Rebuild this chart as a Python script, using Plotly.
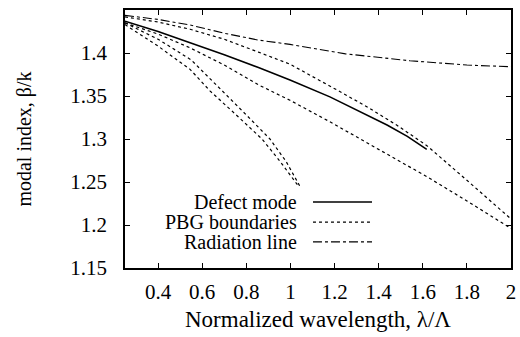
import plotly.graph_objects as go

# ---- data ----
x_defect = [0.25, 0.4, 0.545, 0.7, 0.855, 0.998, 1.179, 1.3, 1.438, 1.53, 1.618]
y_defect = [1.437, 1.425, 1.412, 1.398, 1.383, 1.3686, 1.349, 1.334, 1.3163, 1.303, 1.288]

x_pbg_upper = [0.25, 0.4, 0.545, 0.7, 0.855, 0.998, 1.211, 1.35, 1.483, 1.62, 1.8, 2.0]
y_pbg_upper = [1.442, 1.436, 1.4276, 1.416, 1.401, 1.387, 1.357, 1.337, 1.316, 1.292, 1.252, 1.207]

x_pbg_lower = [0.25, 0.4, 0.545, 0.7, 0.855, 0.998, 1.179, 1.4, 1.62, 1.8, 2.0]
y_pbg_lower = [1.435, 1.422, 1.406, 1.386, 1.363, 1.345, 1.320, 1.288, 1.256, 1.228, 1.196]

x_band_a = [0.25, 0.4, 0.55, 0.712, 0.8, 0.907, 0.98, 1.043]
y_band_a = [1.435, 1.416, 1.392, 1.351, 1.328, 1.300, 1.274, 1.245]

x_band_b = [0.25, 0.4, 0.545, 0.635, 0.75, 0.871, 0.95, 1.034]
y_band_b = [1.433, 1.408, 1.381, 1.356, 1.329, 1.300, 1.275, 1.246]

x_radiation = [0.25, 0.4, 0.545, 0.7, 0.855, 0.998, 1.25, 1.542, 1.8, 2.0]
y_radiation = [1.4438, 1.439, 1.4326, 1.423, 1.415, 1.410, 1.399, 1.391, 1.386, 1.384]

x_ticks = [0.4, 0.6, 0.8, 1.0, 1.2, 1.4, 1.6, 1.8, 2.0]
x_ticklabels = ["0.4", "0.6", "0.8", "1", "1.2", "1.4", "1.6", "1.8", "2"]
y_ticks = [1.15, 1.2, 1.25, 1.3, 1.35, 1.4]
y_ticklabels = ["1.15", "1.2", "1.25", "1.3", "1.35", "1.4"]

legend_labels = ["Defect mode", "PBG boundaries", "Radiation line"]

FONT = "Liberation Serif"
BLACK = "black"

fig = go.Figure()

fig.add_trace(go.Scatter(x=x_defect, y=y_defect, mode="lines",
                         line=dict(color=BLACK, width=1.6), showlegend=False))
for xs, ys in [(x_pbg_upper, y_pbg_upper), (x_pbg_lower, y_pbg_lower),
               (x_band_a, y_band_a), (x_band_b, y_band_b)]:
    fig.add_trace(go.Scatter(x=xs, y=ys, mode="lines",
                             line=dict(color=BLACK, width=1.2, dash="dot"),
                             showlegend=False))
fig.add_trace(go.Scatter(x=x_radiation, y=y_radiation, mode="lines",
                         line=dict(color=BLACK, width=1.1, dash="dashdot"),
                         showlegend=False))

# legend drawn gnuplot-style: text right-aligned, sample line to the right
legend_dash = ["solid", "dot", "dashdot"]
legend_y = [0.256, 0.178, 0.101]
for lab, dsh, yy in zip(legend_labels, legend_dash, legend_y):
    fig.add_annotation(xref="paper", yref="paper", x=0.447, y=yy, text=lab,
                       showarrow=False, xanchor="right", yanchor="middle",
                       borderpad=0,
                       font=dict(family=FONT, size=20, color=BLACK))
    fig.add_shape(type="line", xref="paper", yref="paper",
                  x0=0.487, x1=0.640, y0=yy, y1=yy,
                  line=dict(color=BLACK, width=1.2 if dsh != "solid" else 1.4, dash=dsh))

axis_common = dict(
    showline=True, linecolor=BLACK, linewidth=1.5, mirror="ticks",
    ticks="inside", ticklen=5, tickwidth=1, tickcolor=BLACK,
    showgrid=False, zeroline=False, ticklabeloverflow="allow",
    tickfont=dict(family=FONT, size=21, color=BLACK),
)

fig.update_xaxes(range=[0.25, 2.0], tickvals=x_ticks, ticktext=x_ticklabels,
                 ticklabelstandoff=4,
                 title=dict(text="Normalized wavelength, λ/Λ", standoff=8,
                            font=dict(family=FONT, size=23, color=BLACK)),
                 **axis_common)
fig.update_yaxes(range=[1.15, 1.45], tickvals=y_ticks, ticktext=y_ticklabels,
                 ticklabelstandoff=12,
                 title=dict(text="modal index, β/k", standoff=33,
                            font=dict(family=FONT, size=20, color=BLACK)),
                 **axis_common)

fig.update_layout(
    width=520, height=337,
    margin=dict(l=125, r=9, t=10, b=69, autoexpand=False),
    paper_bgcolor="white", plot_bgcolor="white",
    font=dict(family=FONT, color=BLACK),
)

fig.write_html("out.html",
               config={"displayModeBar": False},
               post_script="document.body.style.margin='0';document.body.style.overflow='hidden';")
